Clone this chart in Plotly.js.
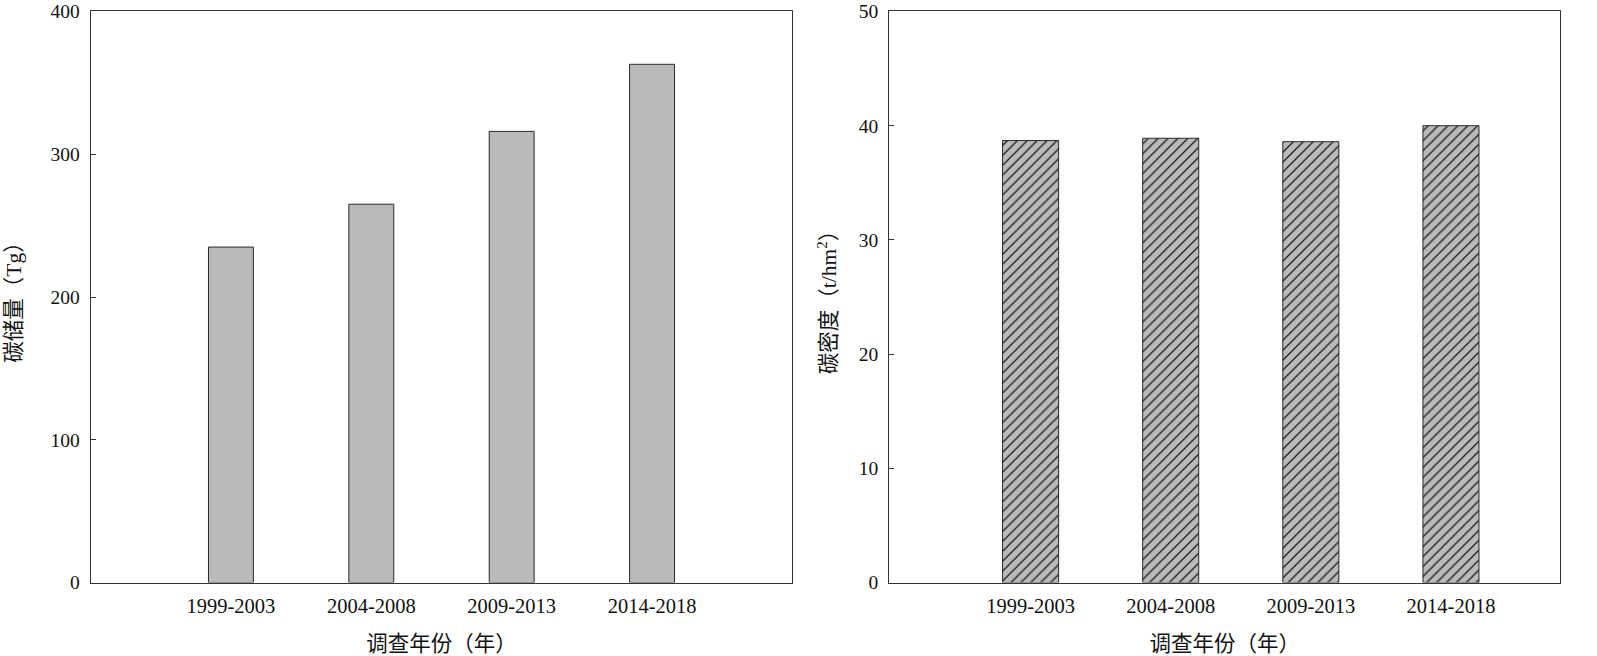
<!DOCTYPE html>
<html>
<head>
<meta charset="utf-8">
<script src="https://cdn.plot.ly/plotly-3.0.1.min.js"></script>
<style>html,body{margin:0;padding:0;background:#fff;}#chart{width:1597px;height:656px;}</style>
</head>
<body>
<div id="chart"></div>
<script>
const categories = ["1999-2003", "2004-2008", "2009-2013", "2014-2018"];
const carbonStorage = [235, 265, 316, 363];
const carbonDensity = [38.7, 38.9, 38.6, 40.0];
const storageTicks = [0, 100, 200, 300, 400];
const densityTicks = [0, 10, 20, 30, 40, 50];

const serif = "Liberation Serif, Times New Roman, serif";
const cjk = "Liberation Serif, Noto Sans CJK SC, serif";

const traces = [
  {
    type: "bar", x: categories, y: carbonStorage, xaxis: "x", yaxis: "y",
    width: 0.32,
    marker: {color: "#bababa", line: {color: "#2a2a2a", width: 1}},
    hoverinfo: "x+y", showlegend: false
  },
  {
    type: "bar", x: categories, y: carbonDensity, xaxis: "x2", yaxis: "y2",
    width: 0.4,
    marker: {color: "#bababa", line: {color: "#2a2a2a", width: 1},
      pattern: {shape: "/", fgcolor: "#1a1a1a", bgcolor: "#bababa", size: 7, solidity: 0.18, fillmode: "replace"}},
    hoverinfo: "x+y", showlegend: false
  }
];

const axisBase = {
  showgrid: false, zeroline: false, showline: true, mirror: true,
  linecolor: "#333", linewidth: 1, ticklabeloverflow: "allow"
};

const layout = {
  width: 1597, height: 656,
  margin: {l: 0, r: 0, t: 0, b: 0},
  paper_bgcolor: "#fff", plot_bgcolor: "#fff",
  font: {family: serif, color: "#111", size: 18},
  xaxis: Object.assign({}, axisBase, {
    domain: [0.0567, 0.4962], range: [-1, 4], type: "category",
    ticks: "", tickfont: {family: serif, size: 20.5}, ticklabelstandoff: 5,
    title: {text: "调查年份（年）", font: {family: cjk, size: 21.5}, standoff: 20}
  }),
  yaxis: Object.assign({}, axisBase, {
    domain: [0.1119, 0.9825], range: [0, 400], tickvals: storageTicks,
    ticks: "inside", ticklen: 5, tickcolor: "#333", ticklabelstandoff: 6,
    tickfont: {family: serif, size: 19.5},
    title: {text: "碳储量（Tg）", font: {family: cjk, size: 21.5}, standoff: 22}
  }),
  xaxis2: Object.assign({}, axisBase, {
    domain: [0.5567, 0.977], range: [-1.01, 3.78], type: "category", anchor: "y2",
    ticks: "", tickfont: {family: serif, size: 20.5}, ticklabelstandoff: 5,
    title: {text: "调查年份（年）", font: {family: cjk, size: 21.5}, standoff: 24}
  }),
  yaxis2: Object.assign({}, axisBase, {
    domain: [0.1119, 0.9825], range: [0, 50], tickvals: densityTicks, anchor: "x2",
    ticks: "inside", ticklen: 5, tickcolor: "#333", ticklabelstandoff: 6,
    tickfont: {family: serif, size: 19.5},
    title: {text: "碳密度（t/hm<sup>2</sup>）", font: {family: cjk, size: 21.5}, standoff: 16}
  })
};

Plotly.newPlot("chart", traces, layout, {displayModeBar: false, staticPlot: true});
</script>
</body>
</html>
